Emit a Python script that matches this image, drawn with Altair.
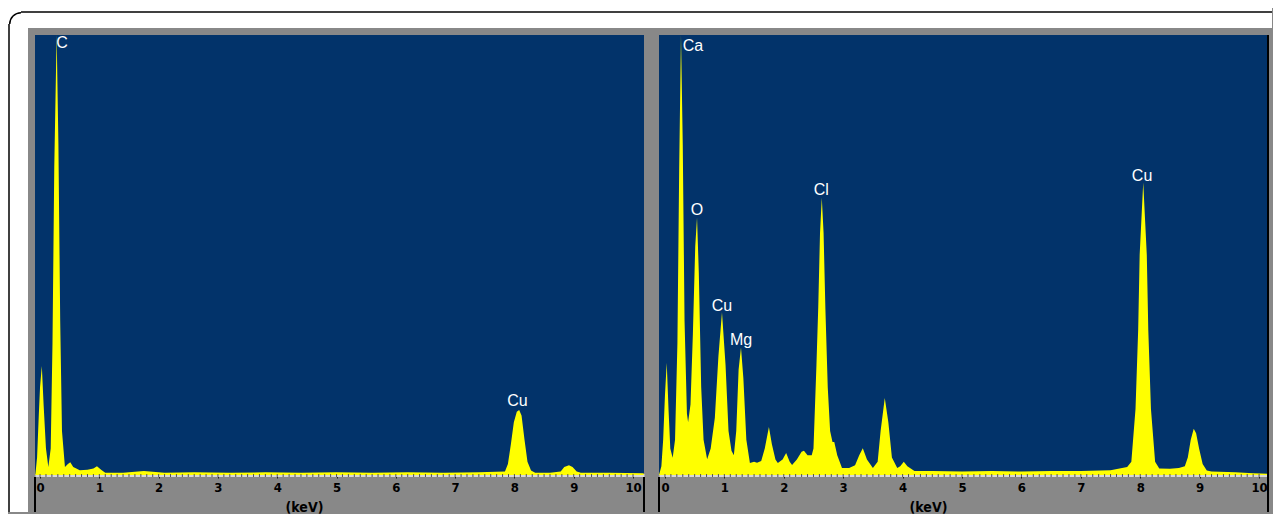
import altair as alt
import pandas as pd

# ---------------- data ----------------
# left spectrum: (energy keV, counts in % of full scale)
left_spectrum = [
    (-0.08, 0), (-0.05, 4), (-0.02, 14), (0.00, 20), (0.03, 24.8), (0.06, 16),
    (0.10, 6), (0.14, 1.8), (0.18, 6), (0.21, 30), (0.24, 70), (0.28, 100),
    (0.31, 75), (0.34, 35), (0.37, 10), (0.42, 1.8), (0.47, 2.5), (0.51, 2.9),
    (0.56, 1.8), (0.67, 1.1), (0.80, 1.2), (0.90, 1.5), (0.96, 2.0), (1.03, 1.2),
    (1.10, 0.5), (1.40, 0.5), (1.75, 0.9), (2.10, 0.5), (2.60, 0.6), (3.20, 0.5),
    (3.80, 0.6), (4.40, 0.5), (5.00, 0.6), (5.60, 0.5), (6.20, 0.6), (6.80, 0.5),
    (7.40, 0.6), (7.84, 0.8), (7.89, 2.5), (7.94, 7), (7.99, 12), (8.04, 14.4),
    (8.08, 14.8), (8.12, 13.5), (8.17, 8), (8.22, 3), (8.28, 1), (8.35, 0.5),
    (8.60, 0.5), (8.78, 0.8), (8.84, 1.8), (8.92, 2.2), (8.98, 1.8), (9.05, 0.8),
    (9.12, 0.5), (9.60, 0.5), (10.18, 0.4),
]

# right spectrum
right_spectrum = [
    (-0.10, 0), (-0.06, 2), (-0.03, 8), (0.00, 18), (0.03, 25.5), (0.06, 15),
    (0.09, 6), (0.13, 3.9), (0.17, 8), (0.21, 30), (0.24, 70), (0.27, 100),
    (0.30, 75), (0.33, 35), (0.37, 14), (0.39, 12), (0.43, 16), (0.47, 32),
    (0.51, 52), (0.54, 58.5), (0.57, 46), (0.61, 20), (0.65, 8), (0.71, 3.6),
    (0.77, 6), (0.84, 13), (0.90, 27), (0.96, 37), (1.02, 25), (1.07, 10),
    (1.12, 5.5), (1.16, 4.5), (1.20, 10), (1.24, 24), (1.28, 29), (1.32, 22),
    (1.37, 8), (1.43, 2.7), (1.50, 3), (1.55, 2.8), (1.62, 3.2), (1.68, 6),
    (1.75, 10.9), (1.80, 7), (1.86, 3.5), (1.90, 2.7), (1.98, 3.5), (2.04, 5),
    (2.10, 3), (2.14, 2.3), (2.22, 3.5), (2.30, 5.3), (2.34, 5.5), (2.40, 4.5),
    (2.47, 4.5), (2.50, 6), (2.55, 25), (2.58, 38), (2.61, 55), (2.64, 63),
    (2.67, 55), (2.70, 38), (2.74, 20), (2.78, 10), (2.82, 7.5), (2.85, 7.5),
    (2.90, 4.5), (2.98, 1.6), (3.10, 1.6), (3.20, 2.2), (3.27, 4.5), (3.33, 6.1),
    (3.40, 3.5), (3.50, 1.6), (3.58, 3), (3.63, 10), (3.70, 17.5), (3.76, 12),
    (3.82, 4), (3.91, 1.6), (3.96, 2), (4.02, 3), (4.08, 2), (4.20, 0.9),
    (4.50, 0.9), (5.00, 0.8), (5.50, 0.9), (6.00, 0.8), (6.50, 0.9), (7.00, 0.9),
    (7.50, 1.1), (7.78, 1.8), (7.85, 3), (7.92, 15), (7.965, 33), (7.99, 50),
    (8.05, 66.5), (8.11, 50), (8.135, 33), (8.18, 15), (8.25, 3), (8.32, 1.5),
    (8.50, 1.4), (8.65, 1.6), (8.75, 2), (8.80, 4), (8.85, 8), (8.90, 10.5),
    (8.94, 9.5), (8.99, 6), (9.05, 2.5), (9.12, 1), (9.20, 0.8), (9.60, 0.6),
    (9.90, 0.4), (10.15, 0.3),
]

# peak labels: (text, keV, counts)
left_labels = [("C", 0.37, 98.2), ("Cu", 8.05, 16.8)]
right_labels = [("Ca", 0.47, 97.5), ("O", 0.54, 60.2), ("Cu", 0.96, 38.4),
                ("Mg", 1.28, 30.7), ("Cl", 2.63, 64.8), ("Cu", 8.03, 68.0)]

left_domain = [-0.085, 10.185]
right_domain = [-0.10, 10.15]
major_ticks = [0, 1, 2, 3, 4, 5, 6, 7, 8, 9, 10]
minor_ticks = [round(i * 0.1, 1) for i in range(101)]
axis_title = "(keV)"

# ---------------- styling ----------------
BLUE = "#02336a"
YELLOW = "#ffff00"
GREY = "#888888"
W, H = 609, 440
BOTTOM = H + 37          # lowest drawn pixel row (view coords)
narrow = "DejaVu Sans Condensed, Liberation Sans Narrow, Arial Narrow, sans-serif"


def x_axis():
    return alt.Axis(
        values=major_ticks, format="d", labelOverlap=False,
        labelFont=narrow, labelFontWeight="bold", labelFontSize=13,
        labelColor="black", labelFlush=False, labelPadding=3,
        domainColor="#d8d8d8", domainWidth=3,
        tickColor="#222222", tickSize=3, tickWidth=1, grid=False,
        title=axis_title, titleFont=narrow, titleFontWeight="bold",
        titleFontSize=14, titleColor="black",
        titleX=269, titleY=32, titleAlign="center", titleBaseline="middle",
    )


def panel(spectrum, labels, domain, decorate=False):
    sdf = pd.DataFrame(spectrum, columns=["kev", "cps"])
    ldf = pd.DataFrame(labels, columns=["label", "kev", "cps"])
    tdf = pd.DataFrame({"t": minor_ticks})
    xs = alt.Scale(domain=domain, nice=False, zero=False)
    ys = alt.Scale(domain=[0, 100], nice=False, zero=True)

    area = alt.Chart(sdf).mark_area(color=YELLOW, clip=True, opacity=1).encode(
        x=alt.X("kev:Q", scale=xs, axis=x_axis()),
        y=alt.Y("cps:Q", scale=ys, axis=None),
    )
    minor = alt.Chart(tdf).mark_rule(color="#555555", strokeWidth=1).encode(
        x=alt.X("t:Q", scale=xs), y=alt.value(H - 1), y2=alt.value(H + 2))
    text = alt.Chart(ldf).mark_text(
        color="white", fontSize=16, font="Liberation Sans, Arial, sans-serif",
        align="center", baseline="middle",
    ).encode(x=alt.X("kev:Q", scale=xs), y=alt.Y("cps:Q", scale=ys), text="label:N")

    one = pd.DataFrame({"k": [0]})
    side_lines = [
        alt.Chart(one).mark_rule(color="black", strokeWidth=2).encode(
            x=alt.value(0), y=alt.value(H + 2), y2=alt.value(BOTTOM)),
        alt.Chart(one).mark_rule(color="black", strokeWidth=2).encode(
            x=alt.value(W), y=alt.value(0 if decorate else H + 2), y2=alt.value(BOTTOM)),
    ]
    layers = [area, minor, text] + side_lines
    if decorate:
        # white page margin and rounded black frame (page decoration)
        deco = [
            alt.Chart(one).mark_rect(color="white").encode(
                x=alt.value(-651), x2=alt.value(613), y=alt.value(-27), y2=alt.value(-7)),
            alt.Chart(one).mark_rect(color="white").encode(
                x=alt.value(-651), x2=alt.value(-631), y=alt.value(-27), y2=alt.value(BOTTOM)),
            alt.Chart(one).mark_rule(color="black", strokeWidth=1.5).encode(
                x=alt.value(-638), x2=alt.value(613), y=alt.value(-23)),
            alt.Chart(one).mark_rule(color="black", strokeWidth=1.5).encode(
                x=alt.value(-650), y=alt.value(-11), y2=alt.value(BOTTOM)),
            alt.Chart(one).mark_arc(color="black", radius=12, radius2=10.5,
                                    theta=4.712, theta2=6.283).encode(
                x=alt.value(-638), y=alt.value(-11)),
        ]
        layers = deco + layers
    return alt.layer(*layers).properties(width=W, height=H)


left = panel(left_spectrum, left_labels, left_domain)
right = panel(right_spectrum, right_labels, right_domain, decorate=True)

chart = alt.hconcat(left, right, spacing=15, bounds="flush").properties(
    padding=0, background=GREY
).configure_view(fill=BLUE, strokeWidth=0)

chart.save("out.html", embed_options={"renderer": "svg", "actions": False})
